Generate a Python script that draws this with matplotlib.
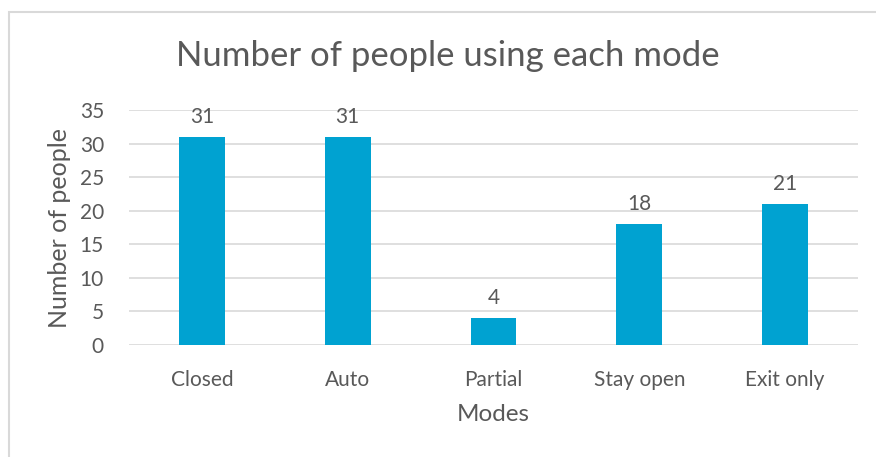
import numpy as np
import matplotlib.pyplot as plt
from matplotlib.patches import Rectangle

# data
modes = ['Closed', 'Auto', 'Partial', 'Stay open', 'Exit only']
people = [31, 31, 4, 18, 21]
yticks = [0, 5, 10, 15, 20, 25, 30, 35]

grey_text = '#595959'
bar_color = '#00A2D1'

plt.rcParams['font.family'] = ['Lato', 'DejaVu Sans']

fig = plt.figure(figsize=(8.76, 4.57), dpi=100)
W, H = 876, 457

# light border of the chart area (runs off the right and bottom edges)
fig.patches.append(Rectangle((9 / W, -0.2), 1.2, 1.2 - 12 / H, transform=fig.transFigure,
                             fill=False, edgecolor='#D9D9D9', linewidth=1.5))

ax = fig.add_axes([129 / W, 1 - 345 / H, (858 - 129) / W, (345 - 110) / H])

x = np.arange(len(modes))
bars = ax.bar(x, people, width=0.315, color=bar_color, zorder=3)

for xi, v in zip(x, people):
    ax.annotate(str(v), (xi, v), xytext=(0, 7), textcoords='offset points',
                ha='center', va='bottom', fontsize=15, color=grey_text)

ax.set_xlim(-0.5, len(modes) - 0.5)
ax.set_ylim(0, 35)
ax.set_yticks(yticks)
ax.set_xticks(x)
ax.set_xticklabels(modes)
ax.grid(axis='y', color='#D9D9D9', linewidth=1.2, zorder=0)
ax.tick_params(length=0, labelsize=15, colors=grey_text)
ax.tick_params(axis='y', pad=18)
ax.tick_params(axis='x', pad=18)
for s in ax.spines.values():
    s.set_visible(False)

ax.set_xlabel('Modes', fontsize=17.5, color=grey_text, labelpad=10)
ax.set_ylabel('Number of people', fontsize=18, color=grey_text, labelpad=6)
fig.text(448 / W, 1 - 56 / H, 'Number of people using each mode', ha='center', va='center',
         fontsize=25, color=grey_text)

plt.savefig('out.png', dpi=100)
